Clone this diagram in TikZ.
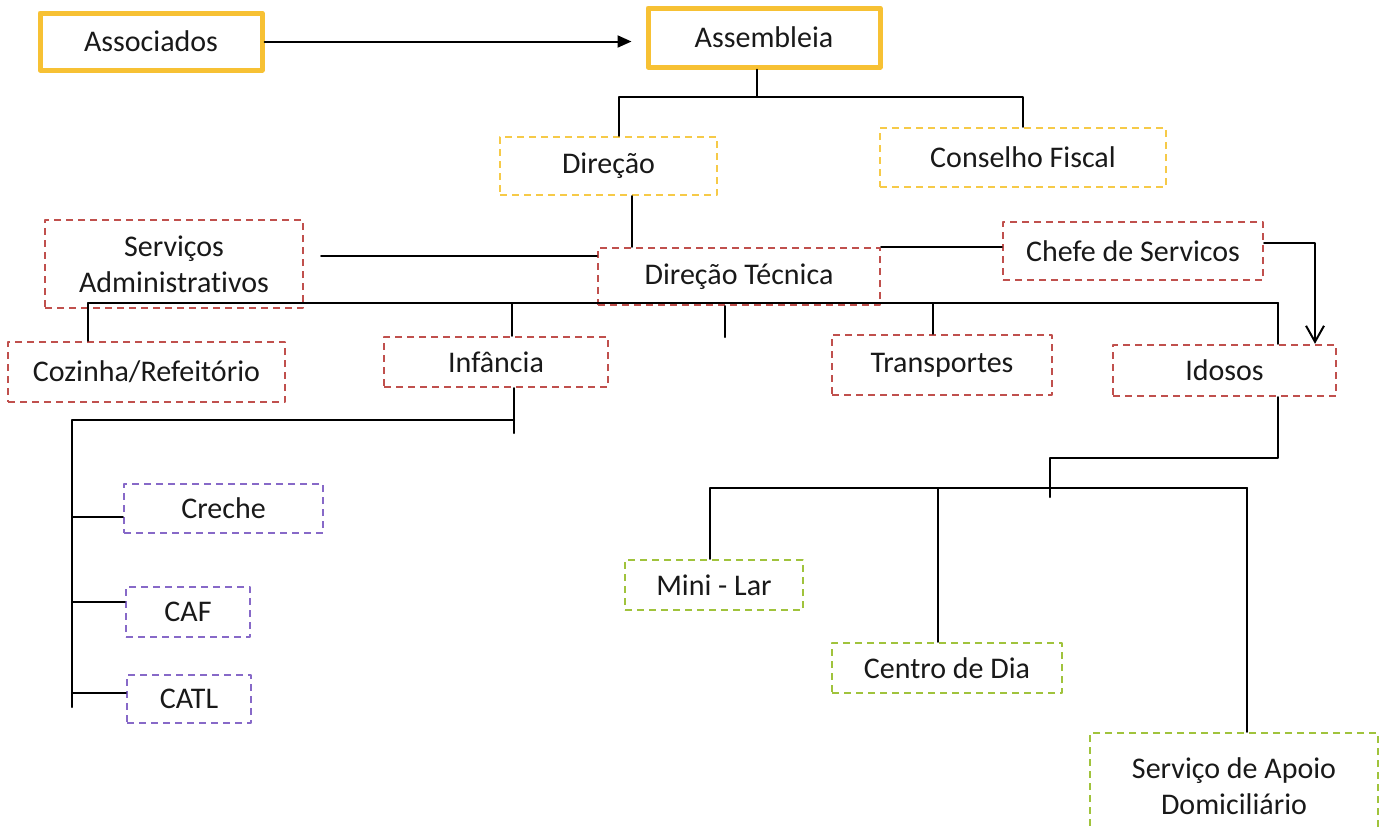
\documentclass[tikz,border=0pt]{standalone}
\usepackage{fontspec}
\setmainfont{Carlito}[Ligatures=NoCommon]
\usetikzlibrary{arrows.meta}
\usetikzlibrary{calc}
\definecolor{gold}{RGB}{247,193,52}
\definecolor{yel}{RGB}{246,202,72}
\definecolor{boxred}{RGB}{192,80,77}
\definecolor{lilac}{RGB}{135,105,200}
\definecolor{lime}{RGB}{160,195,60}
\tikzstyle{every node}=[font=\fontsize{15}{18}\selectfont, text=black!90]
\tikzstyle{every path}=[line width=1pt,line cap=round,line join=round]
\tikzstyle{topbox}=[draw=gold, line width=2.5pt, rectangle, inner sep=2pt]
\tikzstyle{dashbox}=[draw, line width=1.2pt, line cap=butt, dash pattern=on 3.5pt off 2.5pt, rectangle, inner sep=2pt, align=center]
\tikzstyle{yelbox}=[dashbox, draw=yel]
\tikzstyle{redbox}=[dashbox, draw=boxred]
\tikzstyle{purbox}=[dashbox, draw=lilac]
\tikzstyle{grnbox}=[dashbox, draw=lime]

\begin{document}
\begin{tikzpicture}[x=0.5pt,y=-0.5pt]
  \useasboundingbox (0,0) rectangle (1385,827);
  % top level
  \node[topbox, minimum width=111pt, minimum height=28.5pt] (assoc) at (151,41.5) {Associados};
  \node[topbox, minimum width=116pt, minimum height=29.5pt] (assem) at (764,37.5) {Assembleia};
  \node[yelbox, minimum width=108.5pt, minimum height=29pt] (direcao) at (608.5,166) {Direção};
  \node[yelbox, minimum width=143pt, minimum height=29.5pt] (conselho) at (1023,157.5) {Conselho Fiscal};
  % second level
  \node[redbox, minimum width=129pt, minimum height=44pt] (servadm) at (174,264) {Serviços\\Administrativos};
  \node[redbox, minimum width=141pt, minimum height=28.5pt] (dirtec) at (739,276.5) {Direção Técnica};
  \node[redbox, minimum width=130pt, minimum height=29pt] (chefe) at (1133,251) {Chefe de Servicos};
  \node[redbox, minimum width=138.5pt, minimum height=30pt] (cozinha) at (146.5,372) {Cozinha/Refeitório};
  \node[redbox, minimum width=112pt, minimum height=25pt] (infancia) at (496,362) {Infância};
  \node[redbox, minimum width=110pt, minimum height=30pt] (transp) at (942,365) {Transportes};
  \node[redbox, minimum width=111.5pt, minimum height=25.5pt] (idosos) at (1224.5,370.5) {Idosos};
  % infancia
  \node[purbox, minimum width=99.5pt, minimum height=24.5pt] (creche) at (223.5,508.5) {Creche};
  \node[purbox, minimum width=62pt, minimum height=25pt] (caf) at (188,612) {CAF};
  \node[purbox, minimum width=62pt, minimum height=24pt] (catl) at (189,699) {CATL};
  % idosos
  \node[grnbox, minimum width=89pt, minimum height=25pt] (minilar) at (714,585) {Mini - Lar};
  \node[grnbox, minimum width=115pt, minimum height=25pt] (centro) at (947,668) {Centro de Dia};
  \node[grnbox, minimum width=144pt, minimum height=53pt] (sad) at (1234,786) {Serviço de Apoio\\Domiciliário};

  % junctions
  \coordinate (b0) at (757,97);
  \coordinate (busL) at (88,303);
  \coordinate (busR) at (1278,303);
  \coordinate (ktop) at (72,420);
  \coordinate (kbot) at (72,707);
  \coordinate (ejoin) at (1050,458);
  \coordinate (ebusL) at (710,488);
  \coordinate (ebusR) at (1247,488);

  % connectors
  \draw[-{Triangle[length=7pt,width=6pt]}, shorten >=7pt] (assoc.east) -- (assoc.east -| assem.west);
  \draw ([xshift=-3.5pt]assem.south) -- (b0) -| ([xshift=5pt]direcao.north);
  \draw (b0) -| (conselho.north);
  \draw ([xshift=11.75pt]direcao.south) -- ([xshift=11.75pt]direcao.south |- dirtec.north);
  \draw[shorten <=8.5pt] ([yshift=4pt]servadm.east) -- ([yshift=4pt]servadm.east -| dirtec.west);
  \draw (dirtec.north east) -- (dirtec.north east -| chefe.west);
  \draw[-{Straight Barb[length=8pt,width=9pt]}] ([yshift=4pt]chefe.east) -| ([xshift=45.25pt]idosos.north);
  \draw (busL) -- (busR);
  \foreach \n/\dx in {cozinha/-29.25pt, infancia/8pt, transp/-4.5pt, idosos/26.75pt}
    \draw ([xshift=\dx]\n.north) -- ([xshift=\dx]\n.north |- busL);
  \draw ([xshift=-7pt]dirtec.south) -- ++(0,-15.5pt);
  % infancia branches
  \draw ([xshift=9pt]infancia.south) -- ++(0,-22.5pt);
  \draw ([xshift=9pt]infancia.south |- ktop) -- (ktop) -- (kbot);
  \foreach \n/\dy in {creche/-4.25pt, caf/5pt, catl/3pt}
    \draw ([yshift=\dy]\n.west) -- ([yshift=\dy]\n.west -| ktop);
  % idosos branches
  \draw ([xshift=26.75pt]idosos.south) |- (ejoin) -- ++(0,-19.5pt);
  \draw (ebusL) -- (ebusR);
  \foreach \n/\dx in {minilar/-2pt, centro/-4.5pt, sad/6.5pt}
    \draw ([xshift=\dx]\n.north) -- ([xshift=\dx]\n.north |- ebusL);
\end{tikzpicture}
\end{document}
